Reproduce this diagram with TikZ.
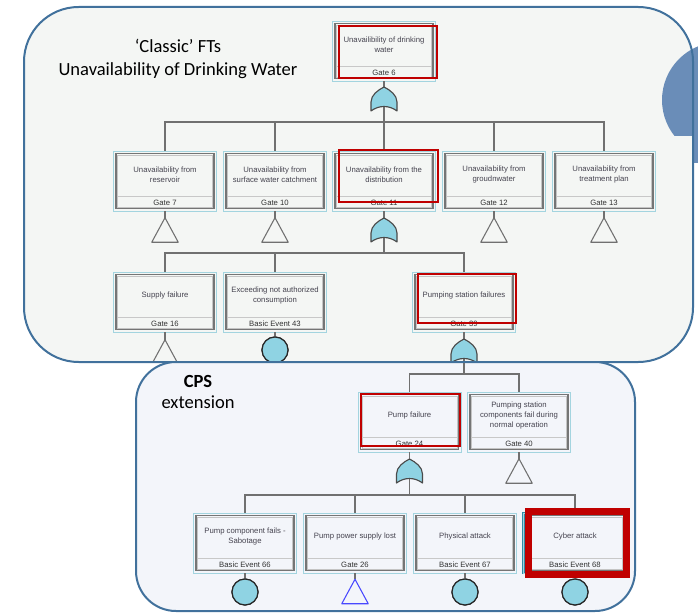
\documentclass[tikz,border=0pt]{standalone}
\usepackage{fontspec}
\setmainfont{Liberation Sans}
\newfontfamily\titlefont{Carlito}
\usetikzlibrary{calc}

\definecolor{panelline}{HTML}{41719C}
\definecolor{topfill}{HTML}{F4F6F4}
\definecolor{botfill}{HTML}{F3F5FA}
\definecolor{decoblue}{HTML}{6A8DB8}
\definecolor{frameblue}{HTML}{A3D4DF}
\definecolor{innergray}{HTML}{757575}
\definecolor{innerlight}{HTML}{C4C4C4}
\definecolor{stripgray}{HTML}{C8C8C8}
\definecolor{gatefill}{HTML}{8FD3E3}
\definecolor{gateline}{HTML}{4A4A4A}
\definecolor{connline}{HTML}{707070}
\definecolor{markred}{HTML}{C00000}
\definecolor{txtgray}{HTML}{45434F}
\definecolor{selteal}{HTML}{2F8DA6}
\definecolor{triblue}{HTML}{4848FF}

% fault-tree event box: name, centre x, top y, description, identifier
\newcommand\ftbox[5]{%
  \node[boxframe] (#1) at (#2,#3+30) {};
  \draw[innerbox] ($(#1.north west)+(3,3)$) rectangle ($(#1.south east)+(-3,-3)$);
  \draw[innerthin] ($(#1.north west)+(4.6,4.6)$) rectangle ($(#1.south east)+(-4.6,-4.6)$);
  \draw[stripline] ($(#1.south west)+(4.6,-15)$) -- ($(#1.south east)+(-4.6,-15)$);
  \node[boxtext] (#1-txt) at ($(#1.north)+(0,24)$) {#4};
  \node[idtext] (#1-id) at ($(#1.south)+(0,-9)$) {#5};
}
% OR gate symbol drawn on a placeholder node
\newcommand\orgate[1]{%
  \filldraw[orshape, shift={(#1.center)}]
    (-13,12) -- (-13,3) .. controls (-13,-4) and (-6,-9) .. (0,-12)
    .. controls (6,-9) and (13,-4) .. (13,3) -- (13,12)
    .. controls (5,6) and (-5,6) .. (-13,12) -- cycle;
}
% transfer triangle drawn on a placeholder node
\newcommand\transfer[2][connline]{%
  \draw[draw=#1, line width=0.8pt, line join=round] (#2.north) -- (#2.south east) -- (#2.south west) -- cycle;
}

\begin{document}
\begin{tikzpicture}[x=0.75pt,y=-0.75pt,
  boxframe/.style={draw=frameblue, line width=0.7pt, minimum width=77.25pt, minimum height=45pt, inner sep=0pt},
  innerbox/.style={draw=innergray, line width=1.1pt},
  innerthin/.style={draw=innerlight, line width=0.35pt},
  stripline/.style={draw=stripgray, line width=0.6pt},
  boxtext/.style={font=\fontsize{5.8}{7.3}\selectfont, text=txtgray, align=center, inner sep=0pt},
  idtext/.style={font=\fontsize{5.8}{7}\selectfont, text=black!80, inner sep=0pt},
  conn/.style={draw=connline, line width=0.8pt},
  orshape/.style={fill=gatefill, draw=gateline, line width=0.85pt, line join=round},
  gatenode/.style={minimum width=19.5pt, minimum height=18pt, inner sep=0pt},
  evcircle/.style={circle, draw=black!85, line width=0.9pt, fill=gatefill, minimum size=19.5pt, inner sep=0pt},
  redmark/.style={draw=markred, line width=2.2pt},
  titletext/.style={font=\titlefont\fontsize{13.9}{17}\selectfont, text=black, inner sep=0pt},
  panel/.style={draw=panelline, line width=1.5pt}
]
\useasboundingbox (0,0) rectangle (698,613);

% ---------- upper panel: classic fault tree ----------
\fill[topfill, rounded corners=41pt] (24,7) rectangle (693,362);
\begin{scope}
  \clip (600,0) rectangle (698,135);
  \fill[decoblue] (720,100) circle [radius=43.5pt];
\end{scope}
\fill[decoblue] (693,133) rectangle (698,163);

\begin{scope}
  \clip[rounded corners=41pt] (24,7) rectangle (693,362);

  \ftbox{g6}{384}{21}{Unavailibility of drinking\\water}{Gate 6}

  \ftbox{g7}{165}{151}{Unavailability from\\reservoir}{Gate 7}
  \ftbox{g10}{275}{151}{Unavailability from\\surface water catchment}{Gate 10}
  \ftbox{g11}{384}{151}{Unavailability from the\\distribution}{Gate 11}
  \ftbox{g12}{494}{151}{Unavailability from\\groudnwater}{Gate 12}
  \ftbox{g13}{604}{151}{Unavailability from\\treatment plan}{Gate 13}

  \ftbox{g16}{165}{272}{Supply failure}{Gate 16}
  \ftbox{e43}{275}{272}{Exceeding not authorized\\consumption}{Basic Event 43}
  \ftbox{g39}{464}{272}{Pumping station failures}{Gate 39}

  % gate and event symbols
  \node[gatenode] (o6) at (384,99) {};
  \coordinate (bus6) at (384,122);
  \node[gatenode] (t7) at (165,230) {};
  \node[gatenode] (t10) at (275,230) {};
  \node[gatenode] (o11) at (384,230) {};
  \coordinate (bus11) at (384,253);
  \node[gatenode] (t12) at (494,230) {};
  \node[gatenode] (t13) at (604,230) {};
  \node[gatenode] (t16) at (165,352) {};
  \node[evcircle] (c43) at (275,350) {};
  \node[gatenode] (o39) at (464,351) {};
  \coordinate (bus39) at (464,374);

  % connectors
  \draw[conn] (g6.south) -- (o6.north);
  \draw[conn] (o6.center) -- (bus6);
  \foreach \k in {g7,g10,g11,g12,g13} \draw[conn] (\k.north) |- (bus6);
  \draw[conn] (g7.south) -- (t7.north);
  \draw[conn] (g10.south) -- (t10.north);
  \draw[conn] (g11.south) -- (o11.north);
  \draw[conn] (g12.south) -- (t12.north);
  \draw[conn] (g13.south) -- (t13.north);
  \draw[conn] (o11.center) -- (bus11);
  \foreach \k in {g16,e43,g39} \draw[conn] (\k.north) |- (bus11);
  \draw[conn] (g16.south) -- (t16.north);
  \draw[conn] (e43.south) -- (c43.north);
  \draw[conn] (g39.south) -- (o39.north);
  \draw[conn] (o39.center) -- (bus39);

  \orgate{o6}
  \orgate{o11}
  \orgate{o39}
  \transfer{t7}
  \transfer{t10}
  \transfer{t12}
  \transfer{t13}
  \transfer{t16}
  \node[evcircle] (c43b) at (c43) {};

  % highlighted events
  \draw[redmark] (339,26) rectangle (437,78);
  \draw[redmark] (339,150) rectangle (438,202);
  \draw[redmark] (418,274) rectangle (516,323);
\end{scope}
\draw[panel, rounded corners=41pt] (24,7) rectangle (693,362);

\node[titletext, anchor=base] (title1) at (178,53) {‘Classic’ FTs};
\node[titletext, anchor=base] (title2) at (178,75.5) {Unavailability of Drinking Water};

% ---------- lower panel: CPS extension ----------
\filldraw[panel, fill=botfill, rounded corners=30pt] (136,362) rectangle (635,611);

\node[titletext, anchor=base, font=\titlefont\bfseries\fontsize{13.9}{17}\selectfont] (cps) at (198,387) {CPS};
\node[titletext, anchor=base] (ext) at (198,408.5) {extension};

\ftbox{g24}{409.5}{392}{Pump failure}{Gate 24}
\ftbox{g40}{519}{392}{Pumping station\\components fail during\\normal operation}{Gate 40}

\node[draw=selteal, line width=2pt, minimum width=77.25pt, minimum height=45pt, inner sep=0pt] (e68sel) at (575,543) {};
\ftbox{e66}{245}{513}{Pump component fails -\\Sabotage}{Basic Event 66}
\ftbox{g26}{355}{513}{Pump power supply lost}{Gate 26}
\ftbox{e67}{465}{513}{Physical attack}{Basic Event 67}
\ftbox{e68}{575}{513}{Cyber attack}{Basic Event 68}

\node[gatenode] (o24) at (409.5,471) {};
\coordinate (bus24) at (409.5,495);
\node[gatenode] (t40) at (519,471) {};
\node[evcircle] (c66) at (245,592) {};
\node[gatenode] (t26) at (355,591.5) {};
\node[evcircle] (c67) at (465,592) {};
\node[evcircle] (c68) at (575,592) {};

\draw[conn] (o39.south) -- (bus39);
\foreach \k in {g24,g40} \draw[conn] (\k.north) |- (bus39);
\draw[conn] (g24.south) -- (o24.north);
\draw[conn] (g40.south) -- (t40.north);
\draw[conn] (o24.center) -- (bus24);
\foreach \k in {e66,g26,e67,e68} \draw[conn] (\k.north) |- (bus24);
\draw[conn] (e66.south) -- (c66.north);
\draw[conn] (g26.south) -- (t26.north);
\draw[conn] (e67.south) -- (c67.north);
\draw[conn] (e68.south) -- (c68.north);

\orgate{o24}
\transfer{t40}
\transfer[triblue]{t26}
\node[evcircle] (c66b) at (c66) {};
\node[evcircle] (c67b) at (c67) {};
\node[evcircle] (c68b) at (c68) {};

\draw[redmark] (361,394) rectangle (460,446);
\draw[markred, line width=5.2pt] (528.5,511.5) rectangle (626.5,574.5);
\end{tikzpicture}
\end{document}
